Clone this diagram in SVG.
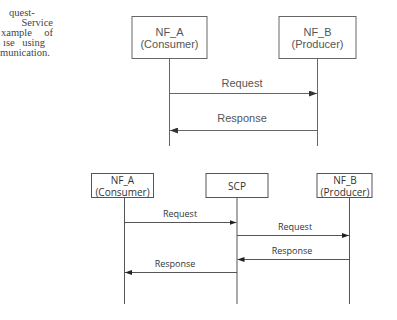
<svg xmlns="http://www.w3.org/2000/svg" width="397" height="320" viewBox="0 0 397 320">
  <defs>
    <marker id="ah" viewBox="0 0 8 6" refX="8" refY="3" markerWidth="8" markerHeight="6" markerUnits="userSpaceOnUse" orient="auto">
      <path d="M0,0 L8,3 L0,6 Z" fill="#333"/>
    </marker>
    <marker id="ah2" viewBox="0 0 7 5" refX="7" refY="2.5" markerWidth="7" markerHeight="5" markerUnits="userSpaceOnUse" orient="auto">
      <path d="M0,0 L7,2.5 L0,5 Z" fill="#222"/>
    </marker>
  </defs>
  <style>
    .cap { font-family: "Liberation Serif", "Times New Roman", serif; font-size: 10.5px; fill: #444; }
    .box1 { fill: #fff; stroke: #666; stroke-width: 1; }
    .t1 { font-family: "Liberation Sans", Arial, sans-serif; font-size: 11px; fill: #555; text-anchor: middle; }
    .l1 { stroke: #666; stroke-width: 1; fill: none; }
    .box2 { fill: #fff; stroke: #555; stroke-width: 1; }
    .t2 { font-family: "Open Sans", "Noto Sans", sans-serif; font-size: 9px; fill: #333; text-anchor: middle; }
    .t2b { font-family: "Open Sans", "Noto Sans", sans-serif; font-size: 10px; fill: #333; text-anchor: middle; }
    .l2 { stroke: #555; stroke-width: 1; fill: none; }
  </style>

  <!-- clipped caption column on the left -->
  <g id="caption">
    <text class="cap" x="9" y="16">quest-</text>
    <text class="cap" x="53" y="26" text-anchor="end">Service</text>
    <text class="cap" y="36"><tspan x="1">xample</tspan><tspan x="53" text-anchor="end">of</tspan></text>
    <text class="cap" y="46"><tspan x="3">ıse</tspan><tspan x="45" text-anchor="end">using</tspan></text>
    <text class="cap" x="0" y="56">munication.</text>
  </g>

  <!-- direct communication -->
  <g id="top-nf-a">
    <rect class="box1" x="132" y="16.5" width="75" height="42"/>
    <text class="t1" x="169.5" y="36">NF_A</text>
    <text class="t1" x="169.5" y="48">(Consumer)</text>
  </g>
  <g id="top-nf-b">
    <rect class="box1" x="279" y="16.5" width="77" height="42"/>
    <text class="t1" x="317.5" y="36">NF_B</text>
    <text class="t1" x="317.5" y="48">(Producer)</text>
  </g>
  <g id="top-connectors">
    <line class="l1" x1="169.5" y1="58.5" x2="169.5" y2="146"/>
    <line class="l1" x1="317.5" y1="58.5" x2="317.5" y2="146"/>
    <line class="l1" x1="169.5" y1="93.5" x2="317" y2="93.5" marker-end="url(#ah)"/>
    <text class="t1" x="242" y="87">Request</text>
    <line class="l1" x1="317.5" y1="130.5" x2="170" y2="130.5" marker-end="url(#ah)"/>
    <text class="t1" x="242" y="122">Response</text>
  </g>

  <!-- indirect communication via SCP -->
  <g id="bot-nf-a">
    <rect class="box2" x="91.5" y="173.5" width="62" height="24"/>
    <text class="t2b" x="122.5" y="184">NF_A</text>
    <text class="t2b" x="122.5" y="195.5">(Consumer)</text>
  </g>
  <g id="bot-scp">
    <rect class="box2" x="206" y="173.5" width="62" height="24"/>
    <text class="t2b" x="237" y="189.5">SCP</text>
  </g>
  <g id="bot-nf-b">
    <rect class="box2" x="317" y="173.5" width="55" height="24"/>
    <text class="t2b" x="345" y="184">NF_B</text>
    <text class="t2b" x="345" y="195.5">(Producer)</text>
  </g>
  <g id="bot-connectors">
    <line class="l2" x1="124.5" y1="197.5" x2="124.5" y2="304"/>
    <line class="l2" x1="237" y1="197.5" x2="237" y2="304"/>
    <line class="l2" x1="349.5" y1="197.5" x2="349.5" y2="304"/>
    <line class="l2" x1="124.5" y1="222.5" x2="236.5" y2="222.5" stroke="#222" marker-end="url(#ah2)"/>
    <text class="t2" x="180" y="217">Request</text>
    <line class="l2" x1="237" y1="235.5" x2="349" y2="235.5" marker-end="url(#ah2)"/>
    <text class="t2" x="295" y="230">Request</text>
    <line class="l2" x1="349.5" y1="259.5" x2="237.5" y2="259.5" marker-end="url(#ah2)"/>
    <text class="t2" x="292" y="254">Response</text>
    <line class="l2" x1="237" y1="272.5" x2="125" y2="272.5" marker-end="url(#ah2)"/>
    <text class="t2" x="175" y="267">Response</text>
  </g>
</svg>
